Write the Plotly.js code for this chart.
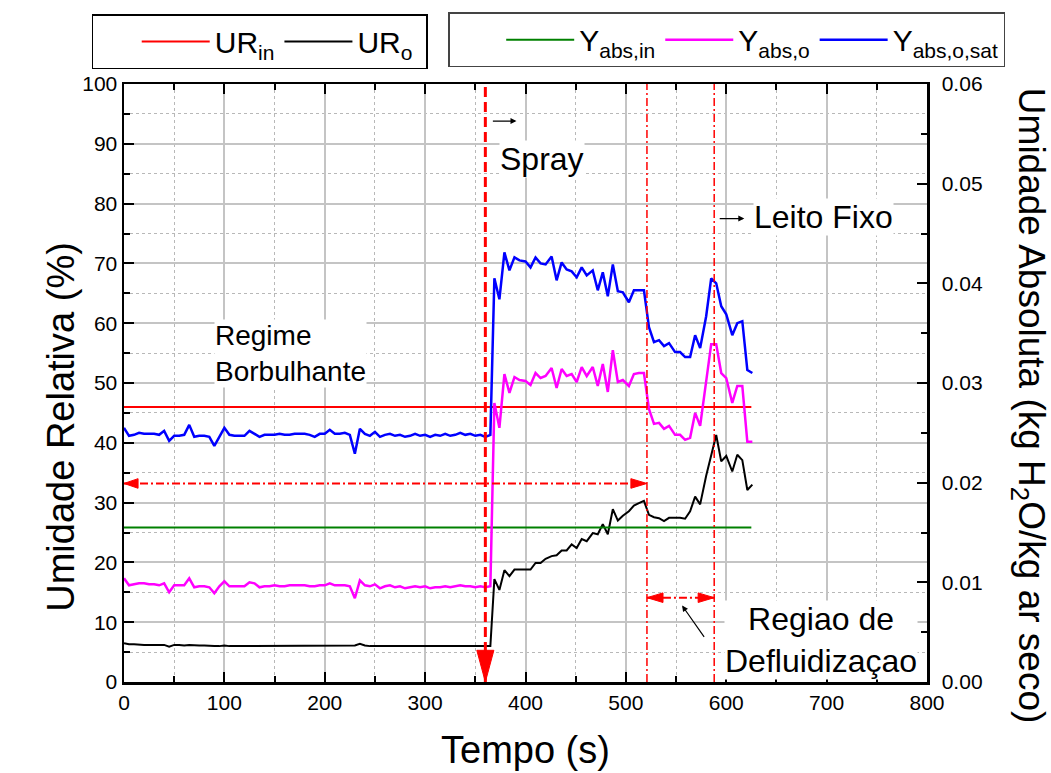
<!DOCTYPE html>
<html>
<head>
<meta charset="utf-8">
<script src="https://cdn.plot.ly/plotly-3.0.1.min.js"></script>
<style>html,body{margin:0;padding:0;background:#fff;}</style>
</head>
<body>
<div id="chart" style="width:1051px;height:773px;"></div>
<script>
// ---- Data ----
const tempo = [
  0,5,10,15,20,25,30,35,40,45,
  50,55,60,65,70,75,80,85,90,95,
  100,105,110,115,120,125,130,135,140,145,
  150,155,160,165,170,175,180,185,190,195,
  200,205,210,215,220,225,230,235,240,245,
  250,255,260,265,270,275,280,285,290,295,
  300,305,310,315,320,325,330,335,340,345,
  350,355,360,365,
  369,374,379,384,389,394,400,405,410,415,
  420,426,431,436,441,446,451,456,461,467,
  472,477,482,487,492,497,503,508,513,518,
  523,528,533,538,543,549,554,559,564,569,
  574,580,585,590,595,600,606,611,616,621,
  626
];
const URo = [
  6.5,6.3,6.3,6.2,6.2,6.2,6.2,6.1,6.2,5.9,
  6.2,6.2,6.1,6.2,6.1,6.1,6.1,6.0,6.0,6.0,
  6.1,6.0,6.0,6.0,6.0,6.1,6.0,6.0,6.0,6.0,
  6.0,6.0,6.1,6.0,6.0,6.0,6.1,6.0,6.0,6.0,
  6.1,6.1,6.0,6.0,6.0,6.1,6.1,6.4,6.1,6.0,
  6.0,6.0,5.9,5.9,5.9,5.9,5.9,5.9,6.0,6.0,
  5.9,5.9,6.0,6.0,6.0,6.0,6.0,6.0,6.0,6.0,
  6.0,5.9,6.0,6.0,
  17.2,15.4,18.7,17.7,18.8,18.8,18.8,18.8,19.9,19.9,
  20.6,21.05,21.2,22.0,22.0,23.0,22.4,23.9,23.55,24.9,
  24.7,26.4,24.7,28.9,27.0,27.8,28.55,29.5,29.9,30.3,
  27.95,27.55,27.4,26.9,27.45,27.45,27.45,27.3,28.55,31.0,
  29.7,34.5,38.1,41.3,36.9,37.8,35.2,38.0,37.1,32.1,
  33.0
];
const YabsO = [
  .0104,.0097,.0098,.0099,.0099,.0098,.0098,.0097,.0099,.0090,
  .0097,.0097,.0097,.0104,.0095,.0096,.0096,.0095,.0089,.0096,
  .0101,.0096,.0096,.0096,.0096,.0100,.0099,.0095,.0096,.0096,
  .0097,.0096,.0096,.0097,.0097,.0097,.0097,.0096,.0096,.0097,
  .0097,.0099,.0097,.0097,.0097,.0096,.0084,.0102,.0097,.0096,
  .0098,.0094,.0096,.0097,.0095,.0096,.0094,.0095,.0096,.0095,
  .0096,.0094,.0095,.0095,.0096,.0095,.0096,.0097,.0096,.0096,
  .0095,.0096,.0095,.0096,
  .0280,.0255,.0309,.0290,.0306,.0303,.0302,.0298,.0310,.0305,
  .0307,.0315,.0295,.0314,.0307,.0309,.0301,.0316,.0307,.0316,
  .0297,.0319,.0291,.0333,.0301,.0303,.0297,.0309,.0310,.0310,
  .0274,.0259,.0260,.0254,.0257,.0248,.0248,.0243,.0245,.0270,
  .0257,.0299,.0339,.0339,.0310,.0305,.0280,.0297,.0297,.0241,
  .0241
];
const YabsOsat = [
  .0255,.0247,.0248,.0250,.0249,.0249,.0249,.0248,.0252,.0242,
  .0247,.0247,.0248,.0258,.0246,.0247,.0247,.0246,.0237,.0246,
  .0255,.0248,.0247,.0247,.0247,.0252,.0249,.0246,.0248,.0248,
  .0248,.0249,.0248,.0248,.0249,.0249,.0249,.0248,.0246,.0249,
  .0249,.0253,.0249,.0249,.0250,.0248,.0229,.0254,.0249,.0247,
  .0251,.0246,.0248,.0249,.0247,.0248,.0246,.0247,.0249,.0247,
  .0248,.0246,.0248,.0247,.0249,.0247,.0248,.0250,.0248,.0249,
  .0247,.0248,.0246,.0248,
  .0405,.0384,.0431,.0413,.0426,.0423,.0422,.0416,.0426,.0420,
  .0419,.0427,.0403,.0421,.0414,.0412,.0406,.0416,.0408,.0413,
  .0393,.0411,.0387,.0419,.0392,.0391,.0381,.0393,.0393,.0393,
  .0356,.0341,.0343,.0337,.0340,.0331,.0331,.0326,.0326,.0348,
  .0335,.0367,.0405,.0400,.0377,.0369,.0348,.0360,.0362,.0313,
  .0310
];
const tempoEntrada = [0, 625];
const URin = [46, 46];
const YabsIn = [0.0155, 0.0155];

// event markers (s) and annotation levels (%)
const tSpray = 360, tFimSpray = 521, tLeito = 588;
const ySetaLonga = 33.2, ySetaCurta = 14.1;

const FONT = 'Arial, "Liberation Sans", sans-serif';

const traces = [
  {x: tempoEntrada, y: URin, name: 'UR<sub>in</sub>', mode: 'lines', line: {color: '#ff0000', width: 2}, yaxis: 'y', legend: 'legend'},
  {x: tempo, y: URo, name: 'UR<sub>o</sub>&nbsp;', mode: 'lines', line: {color: '#000000', width: 2}, yaxis: 'y', legend: 'legend'},
  {x: tempoEntrada, y: YabsIn, name: 'Y<sub>abs,in</sub>', mode: 'lines', line: {color: '#008000', width: 2}, yaxis: 'y2', legend: 'legend2'},
  {x: tempo, y: YabsO, name: 'Y<sub>abs,o</sub>', mode: 'lines', line: {color: '#ff00ff', width: 2.5}, yaxis: 'y2', legend: 'legend2'},
  {x: tempo, y: YabsOsat, name: 'Y<sub>abs,o,sat</sub>', mode: 'lines', line: {color: '#0000ff', width: 2.5}, yaxis: 'y2', legend: 'legend2'}
];

const red = '#ff0000';
const dashdot = '8px,3px,2px,3px';
function tri(tipX, tipY, baseX, half) {
  return {type: 'path', xref: 'x', yref: 'y', layer: 'above',
    path: `M ${tipX},${tipY} L ${baseX},${tipY + half} L ${baseX},${tipY - half} Z`,
    fillcolor: red, line: {color: red, width: 1}};
}
const shapes = [
  {type: 'line', xref: 'x', yref: 'y', x0: tSpray, x1: tSpray, y0: 0, y1: 100, line: {color: red, width: 3, dash: '10px,5px'}, layer: 'above'},
  {type: 'path', xref: 'x', yref: 'y', layer: 'above',
    path: `M ${tSpray - 8.5},5.3 L ${tSpray + 8.5},5.3 L ${tSpray},0 Z`, fillcolor: red, line: {color: red, width: 1}},
  {type: 'line', xref: 'x', yref: 'y', x0: tFimSpray, x1: tFimSpray, y0: 0, y1: 100, line: {color: red, width: 1.5, dash: dashdot}, layer: 'above'},
  {type: 'line', xref: 'x', yref: 'y', x0: tLeito, x1: tLeito, y0: 0, y1: 100, line: {color: red, width: 1.5, dash: dashdot}, layer: 'above'},
  {type: 'line', xref: 'x', yref: 'y', x0: 0, x1: tFimSpray, y0: ySetaLonga, y1: ySetaLonga, line: {color: red, width: 2, dash: dashdot}, layer: 'above'},
  tri(0, ySetaLonga, 14, 0.8),
  tri(tFimSpray, ySetaLonga, tFimSpray - 16, 0.8),
  {type: 'line', xref: 'x', yref: 'y', x0: tFimSpray, x1: tLeito, y0: ySetaCurta, y1: ySetaCurta, line: {color: red, width: 2, dash: dashdot}, layer: 'above'},
  tri(tFimSpray, ySetaCurta, tFimSpray + 16, 0.8),
  tri(tLeito, ySetaCurta, tLeito - 16, 0.8)
];

const txt = (s) => ({family: FONT, size: s, color: '#000'});
const annotations = [
  {x: 416, y: 87.5, xref: 'x', yref: 'y', text: 'Spray', showarrow: false, font: txt(32), bgcolor: '#fff', borderpad: 0},
  {x: 697, y: 77.8, xref: 'x', yref: 'y', text: 'Leito Fixo', showarrow: false, font: txt(32), bgcolor: '#fff', borderpad: 0},
  {x: 90, y: 55, xref: 'x', yref: 'y', xanchor: 'left', align: 'left', text: 'Regime<br>Borbulhante', showarrow: false, font: txt(28), bgcolor: '#fff', borderpad: 0},
  {x: 694, y: 7, xref: 'x', yref: 'y', text: 'Regiao de<br>Defluidizaçao', showarrow: false, font: txt(32), bgcolor: '#fff', borderpad: 0},
  {x: 391, y: 93.8, ax: 366, ay: 93.8, xref: 'x', yref: 'y', axref: 'x', ayref: 'y', text: '', showarrow: true, arrowhead: 2, arrowsize: 1, arrowwidth: 1.2, arrowcolor: '#000'},
  {x: 618, y: 77.5, ax: 592, ay: 77.5, xref: 'x', yref: 'y', axref: 'x', ayref: 'y', text: '', showarrow: true, arrowhead: 2, arrowsize: 1, arrowwidth: 1.2, arrowcolor: '#000'},
  {x: 556, y: 12.8, ax: 579, ay: 7.3, xref: 'x', yref: 'y', axref: 'x', ayref: 'y', text: '', showarrow: true, arrowhead: 2, arrowsize: 1, arrowwidth: 1.2, arrowcolor: '#000'},
  {x: 0.5, y: -0.113, xref: 'paper', yref: 'paper', text: 'Tempo (s)', showarrow: false, font: txt(38), yanchor: 'middle'},
  {x: -0.107, y: 0.427, xref: 'paper', yref: 'paper', text: 'Umidade Relativa (%)', textangle: -90, showarrow: false, font: txt(38)},
  {x: 1.158, y: 0.462, xref: 'paper', yref: 'paper', text: 'Umidade Absoluta (kg H<sub>2</sub>O/kg ar seco)', textangle: 90, showarrow: false, font: txt(37)}
];

const axisCommon = {
  showline: true, linecolor: '#000', linewidth: 2.5,
  ticks: 'inside', ticklen: 10, tickwidth: 2, tickcolor: '#000',
  tickfont: {family: FONT, size: 21, color: '#000'},
  zeroline: false
};

const legendFont = {family: FONT, size: 30, color: '#000'};
const layout = {
  width: 1051, height: 773,
  margin: {l: 124, r: 124, t: 82, b: 91},
  paper_bgcolor: '#fff', plot_bgcolor: '#fff',
  font: {family: FONT, color: '#000'},
  showlegend: true,
  xaxis: Object.assign({}, axisCommon, {
    range: [0, 800], dtick: 100, tick0: 0, mirror: 'ticks',
    showgrid: true, gridcolor: '#c4c4c4', gridwidth: 2,
    minor: {dtick: 50, ticks: 'inside', ticklen: 6, tickwidth: 2, tickcolor: '#000', showgrid: true, gridcolor: '#b8b8b8', griddash: 'dot', gridwidth: 1}
  }),
  yaxis: Object.assign({}, axisCommon, {
    range: [0, 100], dtick: 10, tick0: 0, mirror: true,
    showgrid: true, gridcolor: '#c4c4c4', gridwidth: 2,
    minor: {dtick: 5, ticks: 'inside', ticklen: 6, tickwidth: 2, tickcolor: '#000', showgrid: true, gridcolor: '#b8b8b8', griddash: 'dot', gridwidth: 1}
  }),
  yaxis2: Object.assign({}, axisCommon, {
    overlaying: 'y', side: 'right', range: [0, 0.06], dtick: 0.01, tick0: 0, tickformat: '.2f',
    showgrid: false, ticklabelstandoff: 8,
    minor: {dtick: 0.005, ticks: 'inside', ticklen: 6, tickwidth: 2, tickcolor: '#000', showgrid: false}
  }),
  legend: {x: -0.04, xanchor: 'left', y: 1.117, yanchor: 'top', orientation: 'h',
    title: {text: '&nbsp;&nbsp;&nbsp;&nbsp;', side: 'left', font: legendFont},
    bordercolor: '#000', borderwidth: 1.5, bgcolor: '#fff', itemwidth: 68,
    font: legendFont},
  legend2: {x: 0.4035, xanchor: 'left', y: 1.12, yanchor: 'top', orientation: 'h',
    title: {text: '&nbsp;&nbsp;&nbsp;&nbsp;&nbsp;', side: 'left', font: legendFont},
    bordercolor: '#444', borderwidth: 1.5, bgcolor: '#fff', itemwidth: 68,
    font: legendFont},
  shapes: shapes,
  annotations: annotations
};

Plotly.newPlot('chart', traces, layout, {displayModeBar: false, staticPlot: true});
</script>
</body>
</html>
